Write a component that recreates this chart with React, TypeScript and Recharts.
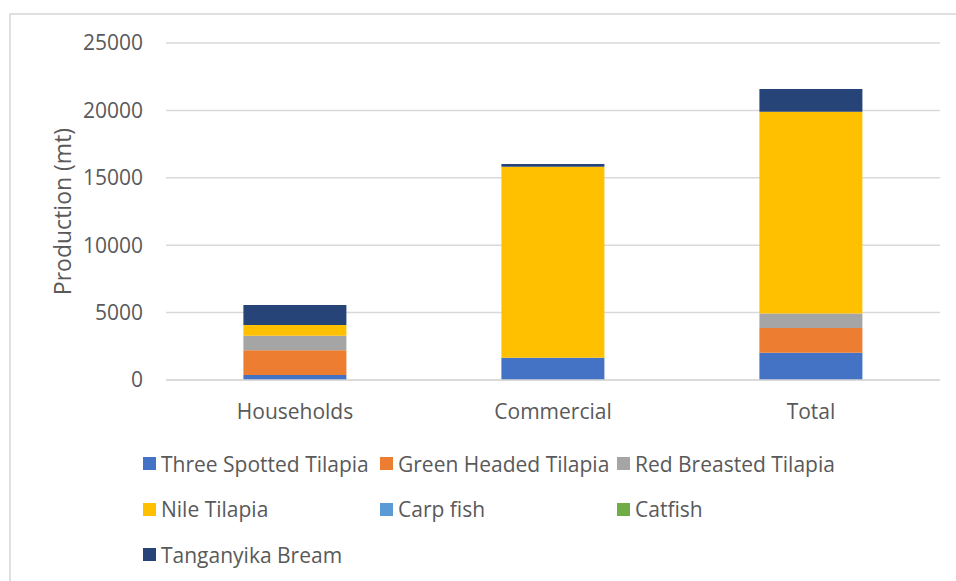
import { BarChart, Bar, XAxis, YAxis, CartesianGrid, Label } from 'recharts';

const categories = ['Households', 'Commercial', 'Total'];

const threeSpotted = [370, 1650, 2020];
const greenHeaded = [1830, 0, 1830];
const redBreasted = [1090, 0, 1090];
const nileTilapia = [790, 14170, 14960];
const carpFish = [0, 0, 0];
const catfish = [0, 0, 0];
const tanganyikaBream = [1490, 200, 1690];

const yTicks = [0, 5000, 10000, 15000, 20000, 25000];

const series = [
  { key: 'three', name: 'Three Spotted Tilapia', values: threeSpotted, color: '#4472C4' },
  { key: 'green', name: 'Green Headed Tilapia', values: greenHeaded, color: '#ED7D31' },
  { key: 'red', name: 'Red Breasted Tilapia', values: redBreasted, color: '#A5A5A5' },
  { key: 'nile', name: 'Nile Tilapia', values: nileTilapia, color: '#FFC000' },
  { key: 'carp', name: 'Carp fish', values: carpFish, color: '#5B9BD5' },
  { key: 'cat', name: 'Catfish', values: catfish, color: '#70AD47' },
  { key: 'bream', name: 'Tanganyika Bream', values: tanganyikaBream, color: '#264478' },
];

const data = categories.map((name, i) => {
  const row: Record<string, string | number> = { name };
  series.forEach((s) => {
    row[s.key] = s.values[i];
  });
  return row;
});

const FONT = '"Open Sans", "Noto Sans", sans-serif';
const TEXT = '#595959';

export default function App() {
  return (
    <div
      style={{
        position: 'fixed',
        left: 0,
        top: 0,
        width: 956,
        height: 581,
        overflow: 'hidden',
        background: '#fff',
        fontFamily: FONT,
      }}
    >
      {/* frame: top and left edges only */}
      <div style={{ position: 'absolute', left: 9, top: 13, width: 947, height: 2, background: '#e0e0e0' }} />
      <div style={{ position: 'absolute', left: 9, top: 13, width: 2, height: 568, background: '#e0e0e0' }} />
      <div style={{ position: 'absolute', left: 8, top: 8 }}>
        <BarChart
          width={948}
          height={430}
          data={data}
          margin={{ top: 35, right: 16, left: 0, bottom: 0 }}
          barCategoryGap="30%"
        >
          <CartesianGrid vertical={false} stroke="#d9d9d9" strokeWidth={1.5} />
          <XAxis
            dataKey="name"
            height={58}
            tickSize={0}
            tickMargin={24}
            axisLine={{ stroke: '#d9d9d9', strokeWidth: 1.5 }}
            tick={{ fill: TEXT, fontSize: 21, fontFamily: FONT }}
          />
          <YAxis
            width={158}
            domain={[0, 25000]}
            ticks={yTicks}
            interval={0}
            tickSize={0}
            tickMargin={23}
            axisLine={false}
            tick={{ fill: TEXT, fontSize: 21, fontFamily: FONT }}
          >
            <Label
              content={({ viewBox }: any) => {
                const cy = viewBox.y + viewBox.height / 2;
                return (
                  <text
                    x={54}
                    y={cy}
                    transform={`rotate(-90, 54, ${cy})`}
                    textAnchor="middle"
                    dominantBaseline="central"
                    fill={TEXT}
                    fontSize={23}
                    fontFamily={FONT}
                  >
                    Production (mt)
                  </text>
                );
              }}
            />
          </YAxis>
          {series.map((s) => (
            <Bar
              key={s.key}
              dataKey={s.key}
              name={s.name}
              stackId="a"
              fill={s.color}
              isAnimationActive={false}
            />
          ))}
        </BarChart>
      </div>
      <div
        style={{
          position: 'absolute',
          left: 143,
          top: 441,
          display: 'grid',
          gridTemplateColumns: '237px 237px 237px',
          gridAutoRows: '45.5px',
        }}
      >
        {series.map((s) => (
          <div key={s.key} style={{ display: 'flex', alignItems: 'center' }}>
            <span style={{ width: 13, height: 13, background: s.color, marginRight: 5, flex: 'none' }} />
            <span style={{ color: TEXT, fontSize: 21, whiteSpace: 'nowrap' }}>{s.name}</span>
          </div>
        ))}
      </div>
    </div>
  );
}
